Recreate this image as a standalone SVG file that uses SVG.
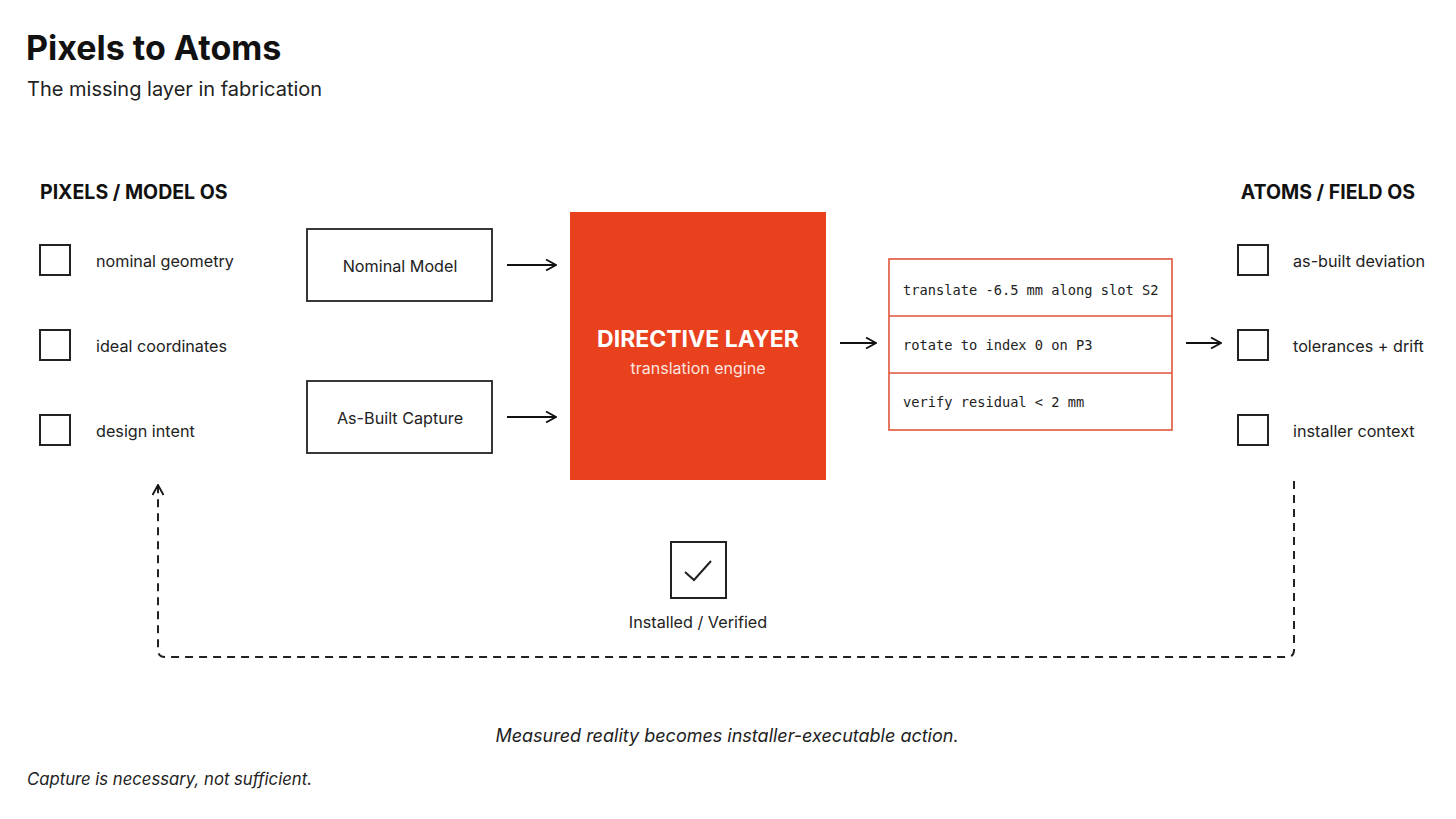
<svg xmlns="http://www.w3.org/2000/svg" width="1456" height="819" viewBox="0 0 1456 819">
<defs>
<style>
text{font-family:Inter,"Noto Sans","Liberation Sans",sans-serif;fill:#1a1a1a}
.title{font-size:34px;font-weight:700;fill:#111}
.sub{font-size:20px;fill:#222}
.head{font-size:19.5px;font-weight:700;fill:#111}
.lbl{font-size:16.2px;fill:#222}
.box{fill:none;stroke:#222;stroke-width:2}
.node{fill:#fff;stroke:#222;stroke-width:1.8}
.mono{font-family:"DejaVu Sans Mono","Liberation Mono",monospace;font-size:13.7px;fill:#222}
.arrow{fill:none;stroke:#111;stroke-width:1.8}
.dash{fill:none;stroke:#222;stroke-width:2;stroke-dasharray:8 6}
.ital{font-style:italic;font-size:18px;fill:#222}
</style>
<marker id="ah" viewBox="0 0 12 12" refX="11" refY="6" markerWidth="12" markerHeight="12" markerUnits="userSpaceOnUse" orient="auto">
<path d="M1,0.5 L11,6 L1,11.5" fill="none" stroke="#111" stroke-width="1.8"/>
</marker>
</defs>
<rect width="1456" height="819" fill="#fff"/>
<g id="header">
<text class="title" x="26" y="60">Pixels to Atoms</text>
<text class="sub" x="27" y="96">The missing layer in fabrication</text>
</g>
<g id="pixels-column">
<text class="head" x="40" y="199">PIXELS / MODEL OS</text>
<rect class="box" x="40" y="245" width="30" height="30"/>
<text class="lbl" x="96" y="267">nominal geometry</text>
<rect class="box" x="40" y="330" width="30" height="30"/>
<text class="lbl" x="96" y="352">ideal coordinates</text>
<rect class="box" x="40" y="415" width="30" height="30"/>
<text class="lbl" x="96" y="437">design intent</text>
</g>
<g id="nominal-model">
<rect class="node" x="307" y="229" width="185" height="72"/>
<text class="lbl" x="400" y="272" text-anchor="middle">Nominal Model</text>
</g>
<g id="as-built-capture">
<rect class="node" x="307" y="381" width="185" height="72"/>
<text class="lbl" x="400" y="424" text-anchor="middle">As-Built Capture</text>
</g>
<g id="directive-layer">
<rect x="570" y="212" width="256" height="268" fill="#E9411D"/>
<text x="698" y="347" text-anchor="middle" style="font-size:23px;font-weight:700;fill:#fff">DIRECTIVE LAYER</text>
<text x="698" y="374" text-anchor="middle" style="font-size:16px;fill:#fff;fill-opacity:0.88">translation engine</text>
</g>
<g id="directives">
<rect x="889" y="259" width="283" height="171" fill="#fff" stroke="#E0553A" stroke-width="1.6"/>
<line x1="889" y1="316" x2="1172" y2="316" stroke="#E0553A" stroke-width="1.6"/>
<line x1="889" y1="373" x2="1172" y2="373" stroke="#E0553A" stroke-width="1.6"/>
<text class="mono" x="903" y="295">translate -6.5 mm along slot S2</text>
<text class="mono" x="903" y="350">rotate to index 0 on P3</text>
<text class="mono" x="903" y="407">verify residual &lt; 2 mm</text>
</g>
<g id="atoms-column">
<text class="head" x="1415" y="199" text-anchor="end">ATOMS / FIELD OS</text>
<rect class="box" x="1238" y="245" width="30" height="30"/>
<text class="lbl" x="1293" y="267">as-built deviation</text>
<rect class="box" x="1238" y="330" width="30" height="30"/>
<text class="lbl" x="1293" y="352">tolerances + drift</text>
<rect class="box" x="1238" y="415" width="30" height="30"/>
<text class="lbl" x="1293" y="437">installer context</text>
</g>
<g id="installed-verified">
<rect class="box" x="671" y="542" width="55" height="56"/>
<path d="M685,572 L694,580 L711,561" fill="none" stroke="#222" stroke-width="2"/>
<text class="lbl" x="698" y="628" text-anchor="middle">Installed / Verified</text>
</g>
<g id="connectors">
<line class="arrow" x1="507" y1="265" x2="556" y2="265" marker-end="url(#ah)"/>
<line class="arrow" x1="507" y1="417" x2="556" y2="417" marker-end="url(#ah)"/>
<line class="arrow" x1="840" y1="343" x2="876" y2="343" marker-end="url(#ah)"/>
<line class="arrow" x1="1186" y1="343" x2="1221" y2="343" marker-end="url(#ah)"/>
<path class="dash" d="M1294,481 L1294,650 Q1294,657 1287,657 L165,657 Q158,657 158,650 L158,485" marker-end="url(#ah)"/>
</g>
<g id="footer">
<text class="ital" x="727" y="742" text-anchor="middle">Measured reality becomes installer-executable action.</text>
<text class="ital" x="27" y="785" style="font-size:16.7px">Capture is necessary, not sufficient.</text>
</g>
</svg>
